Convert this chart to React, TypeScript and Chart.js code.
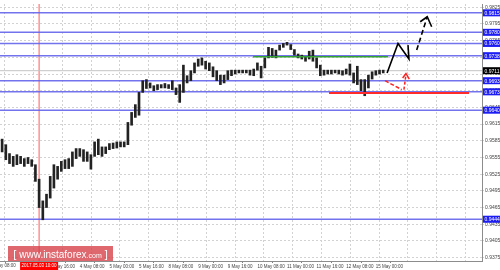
import React, { useEffect, useRef } from 'react';
import { Chart, registerables } from 'chart.js';

Chart.register(...registerables);

// ---- data (hours counted from 2 May 08:00, trading hours only) ----
const barHours = [
  6, 8, 10, 12, 14, 16, 18, 20, 22, 24,
  26, 28, 30, 32, 34, 36, 38, 40, 42, 44,
  46, 48, 50, 52, 54, 56, 58, 60, 62, 64,
  66, 68, 70, 72, 74, 76, 78, 80, 82, 84,
  86, 88, 90, 92, 94, 96, 98, 100, 102, 104,
  106, 108, 110, 112, 114, 116, 118, 120, 122, 124,
  126, 128, 130, 132, 134, 136, 138, 140, 142, 144,
  146, 148, 150, 152, 154, 156, 158, 160, 162, 164,
  166, 168, 170, 172, 174, 176, 178, 180, 182, 184,
  186, 188, 190, 192, 194, 196, 198, 200, 202, 204,
  206, 208, 210, 212,
];
const barHighs = [
  0.9588, 0.9578, 0.9562, 0.9557, 0.9560, 0.9557, 0.9553, 0.9555, 0.9551, 0.9542,
  0.9516, 0.9477, 0.9489, 0.9521, 0.9542, 0.9539, 0.9548, 0.9551, 0.9553, 0.9565,
  0.9571, 0.9571, 0.9569, 0.9565, 0.9560, 0.9583, 0.9588, 0.9574, 0.9574, 0.9580,
  0.9581, 0.9583, 0.9583, 0.9583, 0.9618, 0.9636, 0.9650, 0.9672, 0.9693, 0.9695,
  0.9689, 0.9684, 0.9686, 0.9686, 0.9688, 0.9686, 0.9693, 0.9680, 0.9686, 0.9721,
  0.9702, 0.9711, 0.9725, 0.9732, 0.9734, 0.9728, 0.9725, 0.9718, 0.9711, 0.9703,
  0.9703, 0.9711, 0.9712, 0.9712, 0.9712, 0.9712, 0.9712, 0.9712, 0.9714, 0.9725,
  0.9719, 0.9734, 0.9753, 0.9751, 0.9748, 0.9757, 0.9760, 0.9762, 0.9758, 0.9749,
  0.9741, 0.9739, 0.9737, 0.9746, 0.9748, 0.9734, 0.9721, 0.9712, 0.9712, 0.9712,
  0.9712, 0.9712, 0.9711, 0.9714, 0.9723, 0.9707, 0.9719, 0.9695, 0.9695, 0.9703,
  0.9709, 0.9711, 0.9712, 0.9712,
];
const barLows = [
  0.9565, 0.9551, 0.9544, 0.9539, 0.9542, 0.9544, 0.9539, 0.9544, 0.9539, 0.9512,
  0.9465, 0.9443, 0.9465, 0.9482, 0.9500, 0.9516, 0.9530, 0.9535, 0.9535, 0.9539,
  0.9553, 0.9557, 0.9548, 0.9548, 0.9534, 0.9557, 0.9560, 0.9557, 0.9562, 0.9569,
  0.9571, 0.9572, 0.9574, 0.9574, 0.9578, 0.9613, 0.9627, 0.9631, 0.9672, 0.9679,
  0.9680, 0.9675, 0.9677, 0.9680, 0.9680, 0.9679, 0.9677, 0.9668, 0.9654, 0.9672,
  0.9689, 0.9693, 0.9707, 0.9719, 0.9721, 0.9714, 0.9711, 0.9700, 0.9693, 0.9686,
  0.9689, 0.9695, 0.9702, 0.9705, 0.9707, 0.9707, 0.9707, 0.9703, 0.9702, 0.9712,
  0.9698, 0.9716, 0.9734, 0.9735, 0.9734, 0.9748, 0.9753, 0.9757, 0.9749, 0.9739,
  0.9734, 0.9732, 0.9728, 0.9732, 0.9728, 0.9716, 0.9702, 0.9703, 0.9705, 0.9705,
  0.9707, 0.9705, 0.9703, 0.9705, 0.9703, 0.9689, 0.9686, 0.9675, 0.9666, 0.9680,
  0.9696, 0.9703, 0.9705, 0.9707,
];

const yTickValues = [
  0.9375, 0.9405, 0.9435, 0.9465, 0.9495, 0.9525, 0.9555, 0.9585,
  0.9615, 0.9645, 0.9675, 0.9705, 0.9735, 0.9765, 0.9795, 0.9825,
];
const xTickHours = [16, 32, 48, 64, 80, 96, 112, 128, 144, 160, 176, 192, 208];
const xTickLabels = [
  '3 May 00:00', '3 May 16:00', '4 May 08:00', '5 May 00:00', '5 May 16:00',
  '8 May 08:00', '9 May 00:00', '9 May 16:00', '10 May 08:00', '11 May 00:00',
  '11 May 16:00', '12 May 08:00', '15 May 00:00',
];
const edgeTickHours = [0];
const edgeTickLabels = ['2 May 08:00'];

const levelValues = [0.9815, 0.9780, 0.9760, 0.9738, 0.9693, 0.9673, 0.9640, 0.9444];
const currentPrice = 0.9711;
const markerHour = 26;
const markerLabel = '2017.05.03 10:00';

const greenLineHours = [141.6, 214.6];
const greenLinePrices = [0.9736, 0.9736];
const redLineHours = [182.7, 258.4];
const redLinePrices = [0.9671, 0.9671];
const blackPathHours = [214.1, 220.0, 225.9, 225.4];
const blackPathPrices = [0.9707, 0.9760, 0.9732, 0.9757];
const blackDashHours = [230.1, 235.8];
const blackDashPrices = [0.9748, 0.9808];
const blackHeadHours = [232.0, 235.8, 238.2];
const blackHeadPrices = [0.9799, 0.9808, 0.9790];
const redDashAHours = [213.0, 222.0];
const redDashAPrices = [0.9693, 0.9677];
const redDashBHours = [223.2, 224.3];
const redDashBPrices = [0.9677, 0.9704];
const redHeadHours = [222.5, 224.3, 226.1];
const redHeadPrices = [0.9698, 0.9706, 0.9696];

const watermarkParts = ['[ ', 'www.instaforex', '.com', ' ]'];

// ---- scale extents ----
const X_MIN = 4.86;
const X_MAX = 265.4;
const Y_MIN = 0.93689;
const Y_MAX = 0.98309;
const GRID_START = 15.14;
const GRID_STEP = 15.57;

const FAMILY = '"Liberation Sans", Arial, sans-serif';

export default function App() {
  const ref = useRef<HTMLCanvasElement>(null);

  useEffect(() => {
    const canvas = ref.current;
    if (!canvas) return;

    const full = (v: number) => [{ x: X_MIN, y: v }, { x: X_MAX, y: v }];
    const pts = (hs: number[], ps: number[]) => hs.map((h, i) => ({ x: h, y: ps[i] }));
    const lineDs = (data: any[], color: string, width: number, dash: number[] = [], order = 0) => ({
      type: 'line' as const,
      data,
      borderColor: color,
      borderWidth: width,
      borderDash: dash,
      pointRadius: 0,
      fill: false,
      tension: 0,
      order,
    });

    const datasets: any[] = [
      ...levelValues.map((v) => lineDs(full(v), 'rgba(100,100,236,0.9)', 1.5, [], 3)),
      lineDs(full(currentPrice), '#c4c4c4', 1, [], 3),
      lineDs([{ x: markerHour, y: Y_MIN }, { x: markerHour, y: Y_MAX }], '#ff5a5a', 1, [], 3),
      {
        type: 'bar',
        data: barHours.map((h, i) => ({ x: h, y: [barLows[i], barHighs[i]] })),
        backgroundColor: '#222222',
        borderWidth: 0,
        barThickness: 2,
        order: 2,
      },
      lineDs(pts(greenLineHours, greenLinePrices), '#33a033', 1.5),
      lineDs(pts(redLineHours, redLinePrices), '#ff2a2a', 2),
      lineDs(pts(blackPathHours, blackPathPrices), '#000000', 1.6),
      lineDs(pts(blackDashHours, blackDashPrices), '#000000', 1.6, [5, 3]),
      lineDs(pts(blackHeadHours, blackHeadPrices), '#000000', 1.6),
      lineDs(pts(redDashAHours, redDashAPrices), '#ff2020', 1.5, [4, 2]),
      lineDs(pts(redDashBHours, redDashBPrices), '#ff2020', 1.5, [3, 2]),
      lineDs(pts(redHeadHours, redHeadPrices), '#ff2020', 1.5),
    ];

    const overlay = {
      id: 'overlay',
      afterDraw(chart: any) {
        const { ctx, chartArea, scales } = chart;
        const ys = scales.y;
        const xs = scales.x;
        ctx.save();
        // price boxes on the right axis
        ctx.font = `5px ${FAMILY}`;
        ctx.textBaseline = 'middle';
        ctx.textAlign = 'left';
        const box = (v: number, bg: string) => {
          const py = ys.getPixelForValue(v);
          ctx.fillStyle = bg;
          ctx.fillRect(chartArea.right + 1, py - 3.5, chart.width - chartArea.right - 1, 7);
          ctx.fillStyle = '#ffffff';
          ctx.fillText(v.toFixed(4), chartArea.right + 2.5, py + 0.5);
        };
        levelValues.forEach((v) => box(v, '#1c1cf5'));
        box(currentPrice, '#000000');

        // first (cut) time label
        ctx.font = `4.5px ${FAMILY}`;
        ctx.textBaseline = 'top';
        ctx.fillStyle = '#444444';
        edgeTickHours.forEach((h, i) => {
          ctx.fillText(edgeTickLabels[i], xs.getPixelForValue(h), chartArea.bottom + 3);
        });

        // time marker label
        const mx = xs.getPixelForValue(markerHour);
        ctx.textAlign = 'center';
        const tw = ctx.measureText(markerLabel).width + 3;
        ctx.fillStyle = '#ff0000';
        ctx.fillRect(mx - tw / 2, chartArea.bottom + 1, tw, 8);
        ctx.fillStyle = '#ffffff';
        ctx.fillText(markerLabel, mx, chartArea.bottom + 3);

        // watermark
        const wx = chartArea.left + 8;
        const wy = chartArea.bottom - 15;
        const ww = 105;
        ctx.fillStyle = 'rgba(214,62,70,0.78)';
        ctx.fillRect(wx, wy, ww, 15);
        const sizes = [11, 10, 7, 11];
        let total = 0;
        const widths = watermarkParts.map((p, i) => {
          ctx.font = `${sizes[i]}px ${FAMILY}`;
          const w = ctx.measureText(p).width;
          total += w;
          return w;
        });
        let cx = wx + (ww - total) / 2;
        ctx.textAlign = 'left';
        ctx.textBaseline = 'alphabetic';
        ctx.fillStyle = '#ffffff';
        watermarkParts.forEach((p, i) => {
          ctx.font = `${sizes[i]}px ${FAMILY}`;
          ctx.fillText(p, cx, wy + 11.5);
          cx += widths[i];
        });
        ctx.restore();
      },
    };

    const chart = new Chart(canvas, {
      type: 'bar',
      data: { datasets },
      plugins: [overlay],
      options: {
        responsive: false,
        animation: false,
        devicePixelRatio: 1,
        events: [],
        layout: { padding: 0 },
        plugins: { legend: { display: false }, tooltip: { enabled: false } },
        scales: {
          x: {
            type: 'linear',
            position: 'bottom',
            min: X_MIN,
            max: X_MAX,
            offset: false,
            afterBuildTicks: (s: any) => {
              s.ticks = xTickHours.map((v) => ({ value: v }));
            },
            afterFit: (s: any) => {
              s.height = 9;
            },
            ticks: {
              autoSkip: false,
              maxRotation: 0,
              minRotation: 0,
              align: 'start',
              padding: 1,
              color: '#444444',
              font: { family: FAMILY, size: 4.5 },
              callback: (_v: any, i: number) => xTickLabels[i],
            },
            grid: { drawOnChartArea: false, drawTicks: true, tickLength: 2, color: '#808080' },
            border: { display: true, color: '#8c8c8c', width: 1 },
          },
          x2: {
            type: 'linear',
            position: 'bottom',
            min: X_MIN,
            max: X_MAX,
            offset: false,
            afterBuildTicks: (s: any) => {
              const t: any[] = [];
              for (let v = GRID_START; v < X_MAX; v += GRID_STEP) t.push({ value: v });
              s.ticks = t;
            },
            afterFit: (s: any) => {
              s.height = 0;
            },
            ticks: { display: false },
            grid: { drawTicks: false, color: '#d2d2d2', lineWidth: 1 },
            border: { display: false, dash: [2, 2] },
          },
          y: {
            type: 'linear',
            position: 'right',
            min: Y_MIN,
            max: Y_MAX,
            afterBuildTicks: (s: any) => {
              s.ticks = yTickValues.map((v) => ({ value: v }));
            },
            afterFit: (s: any) => {
              s.width = 18;
            },
            ticks: {
              padding: 1,
              color: '#444444',
              font: { family: FAMILY, size: 5 },
              callback: (v: any) => Number(v).toFixed(4),
            },
            grid: { color: '#d2d2d2', tickLength: 2, drawTicks: true },
            border: { display: true, color: '#8c8c8c', dash: [2, 2] },
          },
        },
      } as any,
    });

    return () => chart.destroy();
  }, []);

  return (
    <div style={{ position: 'fixed', left: 0, top: 0, width: 500, height: 270, background: '#ffffff' }}>
      <canvas ref={ref} width={500} height={270} style={{ display: 'block' }} />
    </div>
  );
}
